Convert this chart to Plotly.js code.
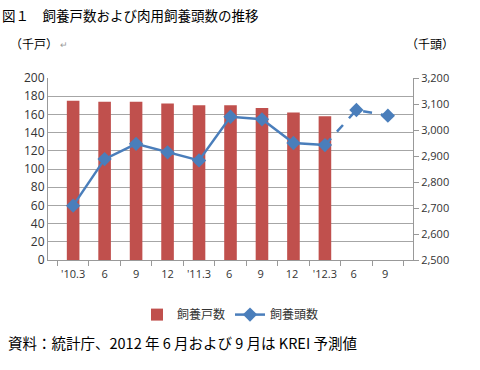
<!DOCTYPE html>
<html><head><meta charset="utf-8">
<script src="https://cdn.plot.ly/plotly-3.0.1.min.js"></script>
<style>html,body{margin:0;padding:0;background:#fff}#c{width:480px;height:370px}</style>
</head><body><div id="c"></div>
<script>
const categories = ["'10.3","6","9","12","'11.3","6 ","9 ","12 ","'12.3","6  ","9  "];
const households = [175,174,174,172,170,170,167,162,158,null,null];
const heads = [2709,2888,2947,2914,2883,3051,3041,2950,2942,null,null];
const forecastCats = ["'12.3","6  ","9  "];
const forecastHeads = [2942,3077,3055];
const forecastMarkCats = ["6  ","9  "];
const forecastMarkHeads = [3077,3055];

const jp = "'Noto Sans CJK JP', sans-serif";
const num = "'Open Sans', 'Liberation Sans', sans-serif";
const blue = "#4a7ebb", red = "#c0504d";

const traces = [
  {type:'bar', x:categories, y:households, name:'飼養戸数', marker:{color:red}, yaxis:'y'},
  {type:'scatter', mode:'lines', x:forecastCats, y:forecastHeads, showlegend:false, yaxis:'y2',
   line:{color:blue, width:2.5, dash:'dash'}},
  {type:'scatter', mode:'lines+markers', x:categories, y:heads, name:'飼養頭数', yaxis:'y2',
   line:{color:blue, width:2.5}, marker:{symbol:'diamond', size:11, color:blue}},
  {type:'scatter', mode:'markers', x:forecastMarkCats, y:forecastMarkHeads, showlegend:false, yaxis:'y2',
   marker:{symbol:'diamond', size:11, color:blue, opacity:1}}
];

function px(xp, yp){ return {x:(xp-48)/365, y:(260-yp)/182}; }
const ann = (t, xp, yp, size, anchor, color) => Object.assign({text:t, xref:'paper', yref:'paper', showarrow:false,
  xanchor:anchor||'left', yanchor:'middle', font:{family:jp, size:size, color:color||'#000'}}, px(xp, yp));

const layout = {
  width:480, height:370, margin:{l:48, r:67, t:78, b:110},
  paper_bgcolor:'#fff', plot_bgcolor:'#fff',
  bargap:0.6, showlegend:true,
  xaxis:{type:'category', tickson:'boundaries', ticks:'outside', ticklen:5, tickcolor:'#999', tickangle:0,
    ticklabelstandoff:4,
    showline:true, linecolor:'#999', showgrid:false, tickfont:{family:num, size:11, color:'#333'}},
  yaxis:{range:[0,200], dtick:20, showgrid:true, gridcolor:'#a6a6a6', gridwidth:1,
    showline:true, linecolor:'#999', ticks:'', zeroline:false, tickfont:{family:num, size:12, color:'#333'}},
  yaxis2:{overlaying:'y', side:'right', range:[2500,3200], dtick:100, tickformat:',d', showgrid:false,
    showline:true, linecolor:'#999', ticks:'outside', ticklen:5, tickcolor:'#999', zeroline:false,
    tickfont:{family:num, size:11, color:'#333'}},
  legend:{orientation:'h', x:0.5, xanchor:'center', y:-0.30, yanchor:'middle',
    font:{family:jp, size:12, color:'#333'}},
  annotations:[
    ann('図１　飼養戸数および肉用飼養頭数の推移', 0, 15, 13.5),
    ann('（千戸）', 8, 43, 12),
    ann('↵', 58, 44, 9, 'left', '#999'),
    ann('（千頭）', 404, 43, 12),
    ann('資料：統計庁、2012 年 6 月および 9 月は KREI 予測値', 6, 342, 14.5)
  ]
};
Plotly.newPlot('c', traces, layout, {displayModeBar:false, staticPlot:true});
</script></body></html>
